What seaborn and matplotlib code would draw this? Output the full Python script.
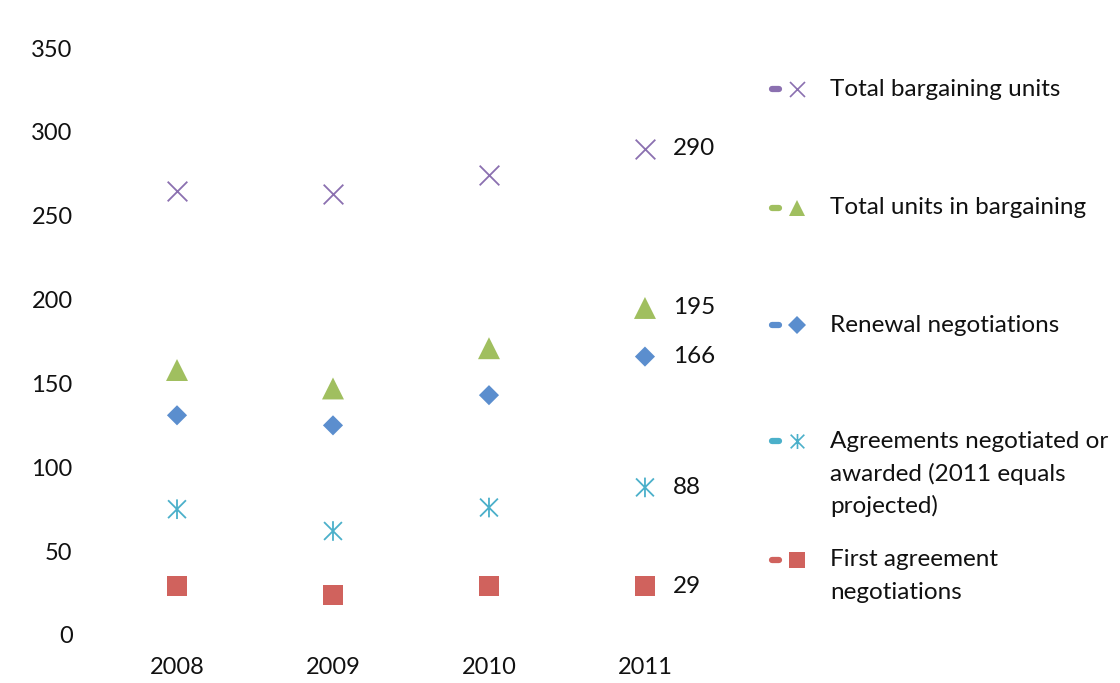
import matplotlib
matplotlib.use("Agg")
import matplotlib.pyplot as plt
from matplotlib.path import Path
from matplotlib.lines import Line2D
import seaborn as sns
import pandas as pd

years = ["2008", "2009", "2010", "2011"]
total_units = [265, 263, 274, 290]
units_in_bargaining = [158, 147, 171, 195]
renewal = [131, 125, 143, 166]
agreements = [75, 62, 76, 88]
first_agreement = [29, 24, 29, 29]

series_names = [
    "Total bargaining units",
    "Total units in bargaining",
    "Renewal negotiations",
    "Agreements negotiated or awarded (2011 equals projected)",
    "First agreement negotiations",
]
legend_lines = [
    ["Total bargaining units"],
    ["Total units in bargaining"],
    ["Renewal negotiations"],
    ["Agreements negotiated or", "awarded (2011 equals", "projected)"],
    ["First agreement", "negotiations"],
]
series_values = [total_units, units_in_bargaining, renewal, agreements, first_agreement]
colors = ["#8B70B0", "#A0BF5F", "#5B8ECE", "#4BB0CA", "#D0625D"]

asterisk = Path(
    [(-1, -1), (1, 1), (-1, 1), (1, -1), (0, -1.1), (0, 1.1)],
    [Path.MOVETO, Path.LINETO, Path.MOVETO, Path.LINETO, Path.MOVETO, Path.LINETO],
)
markers = ["x", "^", "D", asterisk, "s"]
sizes = [200, 250, 105, 200, 210]
kinds = ["line", "fill", "fill", "path", "fill"]

sns.set_theme(style="white")
plt.rcParams["font.family"] = ["Lato", "DejaVu Sans"]

fig = plt.figure(figsize=(11.2, 6.83), dpi=100)
ax = fig.add_axes([0.0884, 0.0703, 0.5571, 0.8594])

for name, vals, col, mk, sz, kind in zip(series_names, series_values, colors, markers, sizes, kinds):
    df = pd.DataFrame({"year": years, "value": vals})
    if kind == "fill":
        sns.scatterplot(data=df, x="year", y="value", marker=mk, s=sz, color=col,
                        edgecolor="none", linewidth=0, ax=ax, legend=False, zorder=3)
    elif kind == "line":
        sns.scatterplot(data=df, x="year", y="value", marker=mk, s=sz, color=col,
                        linewidth=1.3, ax=ax, legend=False, zorder=3)
    else:
        sns.scatterplot(data=df, x="year", y="value", marker=mk, s=sz,
                        facecolor="none", edgecolor=col,
                        linewidth=1.3, ax=ax, legend=False, zorder=3)
    ax.annotate(str(vals[-1]), xy=(3, vals[-1]), xytext=(20, 0), textcoords="offset points",
                va="center", ha="left", fontsize=17.5, color="#111111")

ax.set_xlim(-0.5, 3.5)
ax.set_ylim(0, 350)
ax.set_yticks(range(0, 351, 50))
ax.set_xlabel("")
ax.set_ylabel("")
ax.tick_params(axis="x", labelsize=17, pad=16, length=0, colors="#111111")
ax.tick_params(axis="y", labelsize=17, pad=19, length=0, colors="#111111")
for sp in ax.spines.values():
    sp.set_visible(False)
ax.grid(False)

# legend (manual, Excel-like)
W, H = 1120.0, 683.0
first_line_y = [89, 208, 325, 441, 560]
line_gap = 32.5
leg_sizes = [9, 10, 7.5, 9, 10]
for lines, y, col, mk, kind, ms in zip(legend_lines, first_line_y, colors, markers, kinds, leg_sizes):
    fy = 1 - y / H
    fig.add_artist(Line2D([772 / W, 779 / W], [fy, fy], transform=fig.transFigure,
                          color=col, lw=4.5, solid_capstyle="round"))
    if kind == "fill":
        fig.add_artist(Line2D([797 / W], [fy], transform=fig.transFigure, marker=mk,
                              markersize=ms * 1.2, color=col, markeredgewidth=0, linestyle="none"))
    else:
        fig.add_artist(Line2D([797 / W], [fy], transform=fig.transFigure, marker=mk,
                              markersize=ms * 1.2, color=col, markerfacecolor="none",
                              markeredgecolor=col, markeredgewidth=1.2, linestyle="none"))
    for i, t in enumerate(lines):
        fig.text(830 / W, 1 - (y + i * line_gap) / H, t, fontsize=17.5, va="center", ha="left",
                 color="#111111")

fig.savefig("out.png", dpi=100)
